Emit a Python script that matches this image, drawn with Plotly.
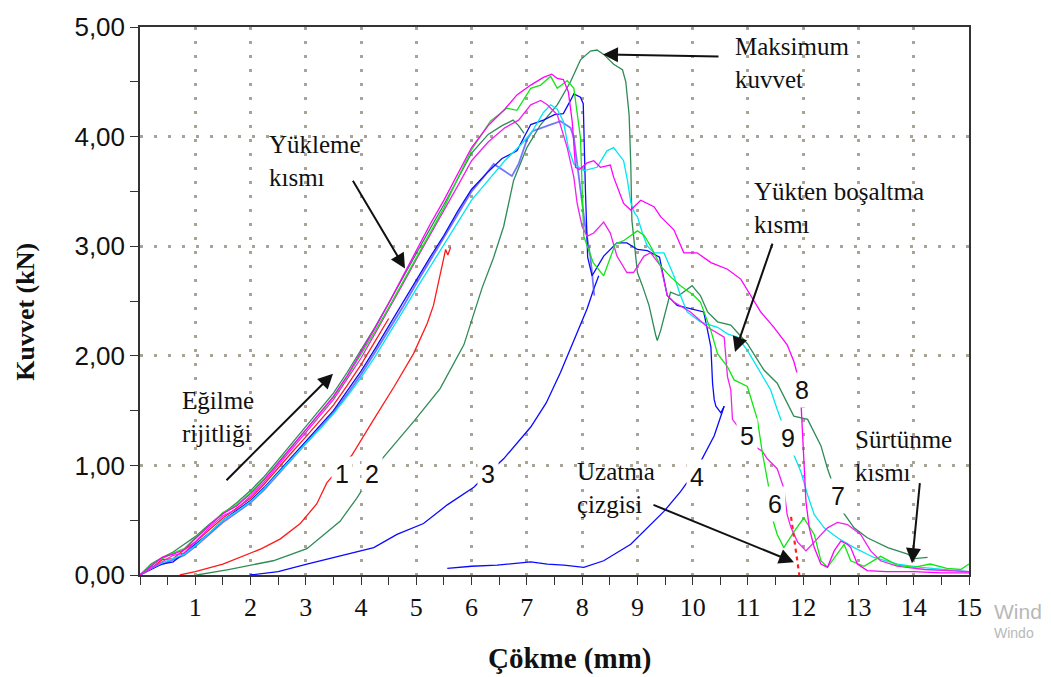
import plotly.graph_objects as go

# ---------------- data ----------------
# common deflection grid for the loading branch of the overlapped specimens (mm)
LOAD_X = [0, 0.2, 0.4, 0.6, 0.8, 1.0, 1.25, 1.5, 1.75, 2.0, 2.25, 2.5, 2.75, 3.0,
          3.25, 3.5, 3.75, 4.0, 4.25, 4.5, 4.75, 5.0, 5.25, 5.5, 5.75, 6.0]

GREEN_LOAD = [0, 0.09, 0.15, 0.2, 0.24, 0.34, 0.45, 0.57, 0.64, 0.75, 0.88, 1.03, 1.18, 1.32,
              1.47, 1.62, 1.81, 2.01, 2.22, 2.44, 2.67, 2.9, 3.12, 3.35, 3.62, 3.88]
GREEN_TAIL = [(6.34, 4.14), (6.64, 4.26), (6.82, 4.24), (7.07, 4.44), (7.25, 4.47), (7.43, 4.55),
              (7.55, 4.44), (7.73, 4.51), (7.85, 4.44), (7.97, 3.99), (8.03, 3.09), (8.2, 2.85),
              (8.39, 2.73), (8.6, 3.02), (8.75, 3.05), (9.0, 3.14), (9.12, 3.1), (9.24, 3.0),
              (9.42, 2.82), (9.6, 2.72), (9.78, 2.64), (10.02, 2.55), (10.14, 2.49), (10.33, 2.23),
              (10.45, 2.02), (10.63, 1.9), (10.75, 1.78), (10.99, 1.72), (11.17, 1.42), (11.26, 1.12),
              (11.38, 0.79), (11.44, 0.52), (11.53, 0.37), (11.65, 0.25), (11.84, 0.4), (12.01, 0.52),
              (12.2, 0.37), (12.32, 0.13), (12.44, 0.07), (12.62, 0.19), (12.74, 0.28), (12.86, 0.13),
              (13.1, 0.08), (13.4, 0.17), (13.7, 0.09), (14.0, 0.07), (14.3, 0.1), (14.6, 0.06),
              (14.85, 0.05), (15.0, 0.1)]

DKGREEN_LOAD = [0, 0.1, 0.16, 0.21, 0.28, 0.35, 0.46, 0.56, 0.66, 0.77, 0.9, 1.05, 1.2, 1.35,
                1.5, 1.66, 1.85, 2.05, 2.26, 2.48, 2.71, 2.94, 3.16, 3.38, 3.62, 3.85]
DKGREEN_TAIL = [(6.3, 4.02), (6.55, 4.1), (6.75, 4.15), (6.85, 4.1), (6.95, 4.03)]

MAG8_LOAD = [0, 0.08, 0.16, 0.19, 0.23, 0.33, 0.45, 0.56, 0.63, 0.74, 0.87, 1.02, 1.17, 1.32,
             1.47, 1.63, 1.82, 2.03, 2.25, 2.48, 2.72, 2.96, 3.2, 3.42, 3.66, 3.9]
MAG8_TAIL = [(6.3, 4.1), (6.6, 4.25), (6.82, 4.38), (7.07, 4.47), (7.3, 4.54), (7.45, 4.57),
             (7.55, 4.53), (7.66, 4.52), (7.75, 4.41), (7.82, 4.14), (7.88, 3.72), (7.95, 3.7),
             (8.09, 3.76), (8.21, 3.78), (8.33, 3.72), (8.51, 3.74), (8.57, 3.63), (8.75, 3.39),
             (8.88, 3.33), (9.06, 3.42), (9.3, 3.36), (9.42, 3.27), (9.66, 3.15), (9.84, 2.94),
             (10.08, 2.94), (10.33, 2.85), (10.63, 2.79), (10.87, 2.7), (11.05, 2.55), (11.23, 2.4),
             (11.47, 2.26), (11.71, 2.1), (11.83, 1.95), (11.89, 1.84), (11.96, 1.57), (11.99, 1.27),
             (12.02, 0.97), (12.05, 0.67), (12.11, 0.43), (12.2, 0.25), (12.32, 0.1), (12.44, 0.07),
             (12.56, 0.22), (12.68, 0.31), (12.8, 0.28), (12.86, 0.25), (12.98, 0.1), (13.16, 0.04),
             (13.5, 0.03), (14.0, 0.03), (14.5, 0.02), (15.0, 0.02)]

MAG5_LOAD = [0, 0.06, 0.12, 0.18, 0.2, 0.3, 0.43, 0.54, 0.6, 0.72, 0.85, 1.0, 1.15, 1.3,
             1.45, 1.6, 1.79, 1.98, 2.2, 2.42, 2.65, 2.88, 3.1, 3.32, 3.55, 3.78]
MAG5_TAIL = [(6.3, 3.95), (6.6, 4.08), (6.85, 4.15), (7.07, 4.29), (7.25, 4.33), (7.37, 4.29),
             (7.55, 4.2), (7.73, 3.9), (7.85, 3.63), (7.91, 3.39), (8.0, 3.18), (8.09, 3.09),
             (8.21, 3.12), (8.39, 3.22), (8.51, 3.12), (8.63, 2.91), (8.81, 2.76), (8.93, 2.76),
             (9.12, 2.91), (9.24, 2.94), (9.42, 2.82), (9.54, 2.55), (9.66, 2.49), (9.96, 2.4),
             (10.27, 2.26), (10.57, 2.17), (10.63, 1.81), (10.69, 1.69), (10.72, 1.42), (10.9, 1.3),
             (11.1, 1.18), (11.26, 1.13), (11.35, 1.06), (11.53, 0.97), (11.59, 0.88), (11.65, 0.79),
             (11.68, 0.67), (11.71, 0.55), (11.78, 0.43), (11.9, 0.3), (12.05, 0.22), (12.2, 0.3),
             (12.32, 0.37), (12.44, 0.43), (12.62, 0.48), (12.8, 0.46), (13.04, 0.37), (13.22, 0.22),
             (13.4, 0.13), (13.7, 0.08), (14.2, 0.05), (15.0, 0.03)]

BLUE_LOAD = [0, 0.05, 0.1, 0.12, 0.2, 0.28, 0.38, 0.5, 0.59, 0.68, 0.8, 0.94, 1.08, 1.22,
             1.36, 1.5, 1.68, 1.86, 2.06, 2.27, 2.48, 2.7, 2.9, 3.1, 3.32, 3.52]
BLUE_TAIL = [(6.3, 3.68), (6.55, 3.8), (6.82, 3.87), (7.07, 4.11), (7.3, 4.15), (7.5, 4.2),
             (7.66, 4.21), (7.79, 4.33), (7.85, 4.39), (7.97, 4.36), (8.02, 4.3), (8.06, 3.5),
             (8.1, 2.9), (8.18, 2.73), (8.39, 2.91), (8.63, 3.03), (8.81, 3.03), (9.0, 2.97),
             (9.18, 2.96), (9.4, 2.9), (9.54, 2.55), (9.72, 2.46), (10.02, 2.42), (10.2, 2.4),
             (10.27, 2.23), (10.33, 2.08), (10.36, 1.75), (10.39, 1.6), (10.42, 1.54), (10.51, 1.48),
             (10.57, 1.54)]

BLUE2_LOAD = [0, 0.07, 0.1, 0.14, 0.18, 0.26, 0.37, 0.48, 0.57, 0.66, 0.78, 0.92, 1.06, 1.2,
              1.34, 1.48, 1.65, 1.83, 2.03, 2.23, 2.44, 2.66, 2.87, 3.08, 3.3, 3.5]
BLUE2_TAIL = [(6.2, 3.62), (6.4, 3.75), (6.58, 3.69), (6.73, 3.64), (6.85, 3.75), (7.0, 3.97),
              (7.1, 4.05), (7.25, 4.08), (7.43, 4.11), (7.61, 4.14), (7.79, 4.08), (7.85, 3.99),
              (7.95, 3.6), (8.05, 3.2), (8.15, 2.9), (8.22, 2.55)]

CYAN_LOAD = [0, 0.06, 0.11, 0.15, 0.19, 0.27, 0.38, 0.5, 0.58, 0.67, 0.79, 0.93, 1.07, 1.2,
             1.33, 1.47, 1.63, 1.8, 1.99, 2.19, 2.4, 2.61, 2.81, 3.01, 3.22, 3.42]
CYAN_TAIL = [(6.3, 3.6), (6.6, 3.78), (6.9, 3.93), (7.1, 4.05), (7.3, 4.22), (7.43, 4.29),
             (7.55, 4.25), (7.66, 4.14), (7.75, 3.9), (7.85, 3.75), (8.03, 3.69), (8.12, 3.7),
             (8.27, 3.72), (8.45, 3.87), (8.57, 3.9), (8.75, 3.78), (8.82, 3.6), (8.88, 3.4),
             (8.95, 3.3), (9.0, 3.27), (9.09, 3.12), (9.18, 3.0), (9.3, 2.94), (9.48, 2.94),
             (9.66, 2.73), (9.78, 2.55), (9.9, 2.4), (10.14, 2.31), (10.45, 2.26), (10.63, 2.2),
             (10.81, 2.17), (10.99, 2.05), (11.17, 1.9), (11.41, 1.69), (11.53, 1.51), (11.62, 1.39),
             (11.81, 1.12), (11.96, 0.94), (12.08, 0.73), (12.2, 0.55), (12.38, 0.43), (12.62, 0.34),
             (12.92, 0.25), (13.28, 0.16), (13.71, 0.1), (14.13, 0.07), (14.6, 0.05), (15.0, 0.03)]

RED_LOAD = [0, 0.06, 0.14, 0.15, 0.23, 0.3, 0.41, 0.52, 0.61, 0.7, 0.83, 0.98, 1.12, 1.26,
            1.4, 1.55, 1.73, 1.92, 2.13, 2.34]

# curves shifted to the right (labels 1-4) and the long dark-green specimen
RED1 = [(0.72, 0), (1.0, 0.03), (1.5, 0.1), (1.81, 0.16), (2.2, 0.24), (2.54, 0.33), (2.9, 0.47),
        (3.2, 0.65), (3.38, 0.84), (3.6, 0.97), (3.83, 1.09), (4.23, 1.42), (4.6, 1.72),
        (4.95, 2.02), (5.2, 2.3), (5.31, 2.46), (5.43, 2.75), (5.5, 2.9), (5.53, 2.97),
        (5.57, 2.92), (5.62, 2.99)]
DKGREEN2 = [(1.03, 0), (1.6, 0.05), (2.41, 0.13), (3.02, 0.24), (3.62, 0.49), (3.92, 0.7),
            (4.15, 0.88), (4.38, 1.06), (4.95, 1.4), (5.43, 1.7), (5.86, 2.1), (6.19, 2.62),
            (6.4, 2.9), (6.58, 3.18), (6.76, 3.6), (7.0, 3.9), (7.25, 4.11), (7.55, 4.29),
            (7.79, 4.5), (7.97, 4.7), (8.15, 4.78), (8.27, 4.79), (8.39, 4.75), (8.57, 4.66),
            (8.73, 4.61), (8.79, 4.5), (8.85, 4.2), (8.88, 3.75), (8.9, 3.24), (8.97, 2.9),
            (9.0, 2.76), (9.09, 2.64), (9.21, 2.46), (9.33, 2.19), (9.36, 2.14), (9.42, 2.23),
            (9.51, 2.4), (9.6, 2.58), (9.75, 2.55), (9.9, 2.61), (9.99, 2.64), (10.14, 2.55),
            (10.27, 2.4), (10.45, 2.31), (10.69, 2.28), (10.99, 2.11), (11.29, 1.87), (11.53, 1.75),
            (11.83, 1.45), (12.08, 1.42), (12.32, 1.18), (12.44, 0.97), (12.56, 0.79), (12.71, 0.58),
            (12.92, 0.43), (13.16, 0.34), (13.53, 0.25), (13.89, 0.19), (14.01, 0.15), (14.25, 0.16)]
BLUE3 = [(1.99, 0), (2.5, 0.03), (3.02, 0.1), (3.44, 0.15), (4.23, 0.25), (4.65, 0.37), (5.13, 0.47),
         (5.56, 0.64), (5.8, 0.72), (6.04, 0.8), (6.3, 0.93), (6.58, 1.06), (7.07, 1.35),
         (7.35, 1.57), (7.61, 1.85), (7.85, 2.14), (8.09, 2.43), (8.21, 2.61), (8.3, 2.73)]
BLUE4 = [(5.56, 0.06), (6.0, 0.08), (6.46, 0.09), (7.07, 0.12), (7.37, 0.1), (7.67, 0.09),
         (8.03, 0.07), (8.39, 0.13), (8.88, 0.28), (9.24, 0.46), (9.48, 0.58), (9.78, 0.76),
         (9.95, 0.88), (10.14, 1.03), (10.39, 1.27), (10.57, 1.54)]
UZATMA = [(11.78, 0.53), (11.93, 0.0)]

X_TICKS = list(range(1, 16))
Y_TICKS = [0, 1, 2, 3, 4, 5]
Y_TICKTEXT = ["0,00", "1,00", "2,00", "3,00", "4,00", "5,00"]

# annotation texts (text, left px, centre px of the two-line block)
TEXT_BLOCKS = [("Yükleme<br>kısmı", 267, 153), ("Maksimum<br>kuvvet", 733, 54),
               ("Yükten boşaltma<br>kısmı", 752, 201), ("Eğilme<br>rijitliği", 180, 414),
               ("Uzatma<br>çizgisi", 575, 486), ("Sürtünme<br>kısmı", 853, 454)]
NUM_LABELS = [("1", 342, 472), ("2", 372, 472), ("3", 488, 472), ("4", 697, 475), ("5", 747, 433),
              ("9", 788, 435), ("8", 802, 387), ("6", 775, 503), ("7", 838, 495)]
ARROWS = [((352, 172), (405, 263)), ((720, 47), (603, 45)), ((773, 236), (735, 348)),
          ((225, 480), (333, 370)), ((652, 503), (794, 562)), ((920, 480), (912, 563))]

SERIF = "Liberation Serif, Times New Roman, serif"
SANS = "Liberation Sans, Arial, sans-serif"

# ---------------- figure ----------------
L, R, T, B = 140, 82, 17, 102
W, H = 1051, 677
PW, PH = W - L - R, H - T - B
XS = PW / 15.0
YS = PH / 5.0


def P(xp, yp):
    """pixel -> data coordinates (inside the plot area)"""
    return (xp - L) / XS, (H - B - yp) / YS


def PP(xp, yp):
    """pixel -> paper coordinates"""
    return (xp - L) / PW, (H - B - yp) / PH


fig = go.Figure()


def add_line(xs, ys, color, width=1.3, dash=None):
    fig.add_trace(go.Scatter(x=xs, y=ys, mode="lines", hoverinfo="skip", showlegend=False,
                             line=dict(color=color, width=width, dash=dash)))


def add_pairs(pairs, color, width=1.3, dash=None):
    add_line([p[0] for p in pairs], [p[1] for p in pairs], color, width, dash)


def add_spec(load, tail, color, width=1.3):
    xs = LOAD_X[:len(load)] + [p[0] for p in tail]
    ys = list(load) + [p[1] for p in tail]
    add_line(xs, ys, color, width)


BLUE = "#0a0aff"
add_pairs(BLUE4, BLUE)
add_pairs(BLUE3, BLUE)
add_pairs(RED1, "#ff1a1a")
add_pairs(DKGREEN2, "#2e8b57")
add_spec(RED_LOAD, [], "#ff1a1a")
add_spec(DKGREEN_LOAD, DKGREEN_TAIL, "#2e8b57")
add_spec(BLUE2_LOAD, BLUE2_TAIL, "rgba(70,70,255,0.75)", 1.8)
add_spec(BLUE_LOAD, BLUE_TAIL, BLUE)
add_spec(CYAN_LOAD, CYAN_TAIL, "#00e6f2")
add_spec(MAG5_LOAD, MAG5_TAIL, "#f020f0")
add_spec(GREEN_LOAD, GREEN_TAIL, "#12e612")
add_spec(MAG8_LOAD, MAG8_TAIL, "#ff00ff")
add_pairs(UZATMA, "#ff2020", 2.2, "4px,4px")

ann = []
for txt, xp, yp in TEXT_BLOCKS:
    x, y = PP(xp, yp)
    ann.append(dict(x=x, y=y, xref="paper", yref="paper", text=txt, showarrow=False,
                    xanchor="left", yanchor="middle", align="left",
                    font=dict(family=SERIF, size=25, color="#111111")))
for txt, xp, yp in NUM_LABELS:
    x, y = PP(xp, yp)
    ann.append(dict(x=x, y=y, xref="paper", yref="paper", text=txt, showarrow=False,
                    xanchor="center", yanchor="middle", bgcolor="white", borderpad=3,
                    font=dict(family=SANS, size=25, color="#111111")))
for (txp, typ), (hxp, hyp) in ARROWS:
    ax, ay = P(txp, typ)
    x, y = P(hxp, hyp)
    ann.append(dict(x=x, y=y, xref="x", yref="y", ax=ax, ay=ay, axref="x", ayref="y", text="",
                    showarrow=True, arrowhead=2, arrowsize=1.5, arrowwidth=2, arrowcolor="#111111",
                    standoff=0, startstandoff=0))
# axis titles
x, y = PP(26, 307)
ann.append(dict(x=x, y=y, xref="paper", yref="paper", text="<b>Kuvvet (kN)</b>", textangle=-90,
                xanchor="center", yanchor="middle", showarrow=False,
                font=dict(family=SERIF, size=26, color="#111111")))
x, y = PP(569, 660)
ann.append(dict(x=x, y=y, xref="paper", yref="paper", text="<b>Çökme (mm)</b>", showarrow=False,
                xanchor="center", yanchor="middle",
                font=dict(family=SERIF, size=29, color="#111111")))
# screen watermark visible at the lower right
x, y = PP(992, 612)
ann.append(dict(x=x, y=y, xref="paper", yref="paper", text="Wind", showarrow=False,
                xanchor="left", yanchor="middle",
                font=dict(family=SANS, size=21, color="#b8b8b8")))
x, y = PP(992, 634)
ann.append(dict(x=x, y=y, xref="paper", yref="paper", text="Windo", showarrow=False,
                xanchor="left", yanchor="middle",
                font=dict(family=SANS, size=14, color="#b8b8b8")))

GRID = "#aaa496"
fig.update_layout(
    width=W, height=H, margin=dict(l=L, r=R, t=T, b=B),
    paper_bgcolor="white", plot_bgcolor="white", showlegend=False, annotations=ann,
    xaxis=dict(range=[0, 15], tickmode="array", tickvals=X_TICKS, ticktext=[str(v) for v in X_TICKS],
               ticks="outside", ticklen=8, tickwidth=1.3, tickcolor="#333333",
               showline=True, linecolor="#333333", linewidth=1.5, mirror=True,
               showgrid=True, gridcolor=GRID, gridwidth=3, griddash="3px,11px", zeroline=False,
               tickfont=dict(family=SERIF, size=26, color="#111111"),
               minor=dict(tickmode="linear", tick0=0, dtick=0.5, ticks="outside", ticklen=8,
                          tickwidth=1.3, tickcolor="#333333", showgrid=False)),
    yaxis=dict(range=[0, 5], tickmode="array", tickvals=Y_TICKS, ticktext=Y_TICKTEXT,
               ticks="outside", ticklen=8, tickwidth=1.3, tickcolor="#333333",
               showline=True, linecolor="#333333", linewidth=1.5, mirror=True,
               showgrid=True, gridcolor=GRID, gridwidth=3, griddash="3px,11px", zeroline=False,
               tickfont=dict(family=SANS, size=26, color="#111111"),
               minor=dict(tickmode="linear", tick0=0, dtick=0.5, ticks="outside", ticklen=8,
                          tickwidth=1.3, tickcolor="#333333", showgrid=False)),
)

fig.write_html("out.html")
